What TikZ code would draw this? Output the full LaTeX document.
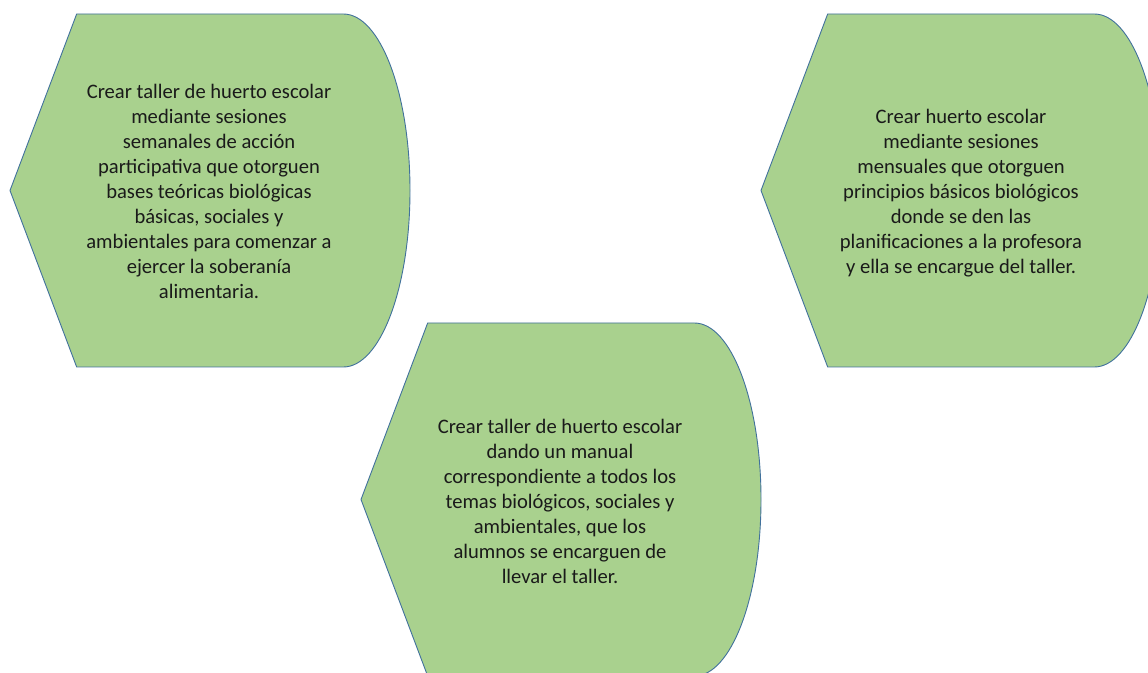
\documentclass[tikz,border=0pt]{standalone}
\usepackage{fontspec}
\setmainfont{Carlito}
\definecolor{shapefill}{HTML}{A9D18E}
\definecolor{shapeline}{HTML}{41719C}
\definecolor{txtcol}{HTML}{1A1A1A}
\tikzset{
  dispshape/.style={fill=shapefill, draw=shapeline, line width=0.9pt, line join=round},
  txt/.style={align=center, text=txtcol, font=\fontsize{20.6}{25}\selectfont, inner sep=0pt},
  display/.pic={
    \path[dispshape] (-133.33,176.5) -- (133.33,176.5)
      arc[start angle=90, end angle=-90, x radius=66.67, y radius=176.5]
      -- (-133.33,-176.5) -- (-200,0) -- cycle;
  }
}
\begin{document}
\begin{tikzpicture}[x=1pt, y=1pt]
\useasboundingbox (0,0) rectangle (1148,672);
\clip (0,0) rectangle (1148,672);
\pic at (210,481.5) {display};
\pic at (961,481.5) {display};
\pic at (561,172.5) {display};
\node[txt] (t1) at (209,481) {Crear taller de huerto escolar\\mediante sesiones\\semanales de acción\\participativa que otorguen\\bases teóricas biológicas\\básicas, sociales y\\ambientales para comenzar a\\ejercer la soberanía\\alimentaria.};
\node[txt] (t2) at (961,479) {Crear huerto escolar\\mediante sesiones\\mensuales que otorguen\\principios básicos biológicos\\donde se den las\\planificaciones a la profesora\\y ella se encargue del taller.};
\node[txt] (t3) at (560,171) {Crear taller de huerto escolar\\dando un manual\\correspondiente a todos los\\temas biológicos, sociales y\\ambientales, que los\\alumnos se encarguen de\\llevar el taller.};
\end{tikzpicture}
\end{document}
